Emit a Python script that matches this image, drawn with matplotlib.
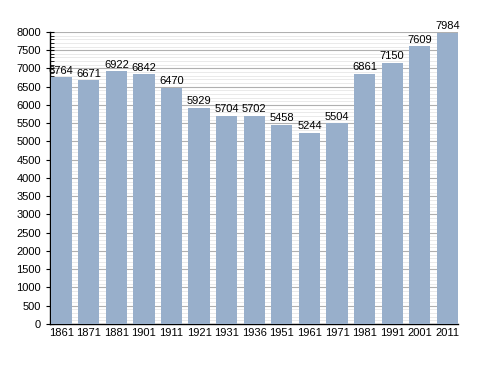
import numpy as np
import matplotlib.pyplot as plt
from matplotlib.ticker import MultipleLocator

plt.rcParams["font.family"] = ["Liberation Sans", "DejaVu Sans"]

# ---------- data ----------
years = ["1861", "1871", "1881", "1901", "1911", "1921", "1931", "1936",
         "1951", "1961", "1971", "1981", "1991", "2001", "2011"]
population = [6764, 6671, 6922, 6842, 6470, 5929, 5704, 5702,
              5458, 5244, 5504, 6861, 7150, 7609, 7984]

bar_color = "#98afcb"

fig = plt.figure(figsize=(4.88, 3.73), dpi=100)
ax = fig.add_axes([0.1025, 0.1314, 0.836, 0.783])

x = np.arange(len(years))
w = 0.77
ax.bar(x, population, width=w, color=bar_color, zorder=3)

for xi, v in zip(x, population):
    ax.text(xi, v + 40, str(v), ha="center", va="bottom", fontsize=8, zorder=4)

ax.set_xlim(-w / 2 - 0.02, len(years) - 1 + w / 2)
ax.set_ylim(0, 8000)
ax.set_xticks(x)
ax.set_xticklabels(years, fontsize=8)
ax.tick_params(axis="x", length=0, pad=3)

ax.yaxis.set_major_locator(MultipleLocator(500))
ax.yaxis.set_minor_locator(MultipleLocator(100))
ax.tick_params(axis="y", which="major", direction="inout", length=6, labelsize=8)
ax.tick_params(axis="y", which="minor", direction="in", length=3)

ax.grid(axis="y", which="major", color="#b0b0b0", linewidth=0.8, zorder=0)
ax.grid(axis="y", which="minor", color="#e6e6e6", linewidth=0.6, zorder=0)
ax.set_axisbelow(True)

for s in ["top", "right"]:
    ax.spines[s].set_visible(False)
ax.spines["left"].set_linewidth(1.0)
ax.spines["bottom"].set_linewidth(1.0)

fig.savefig("out.png", dpi=100)
